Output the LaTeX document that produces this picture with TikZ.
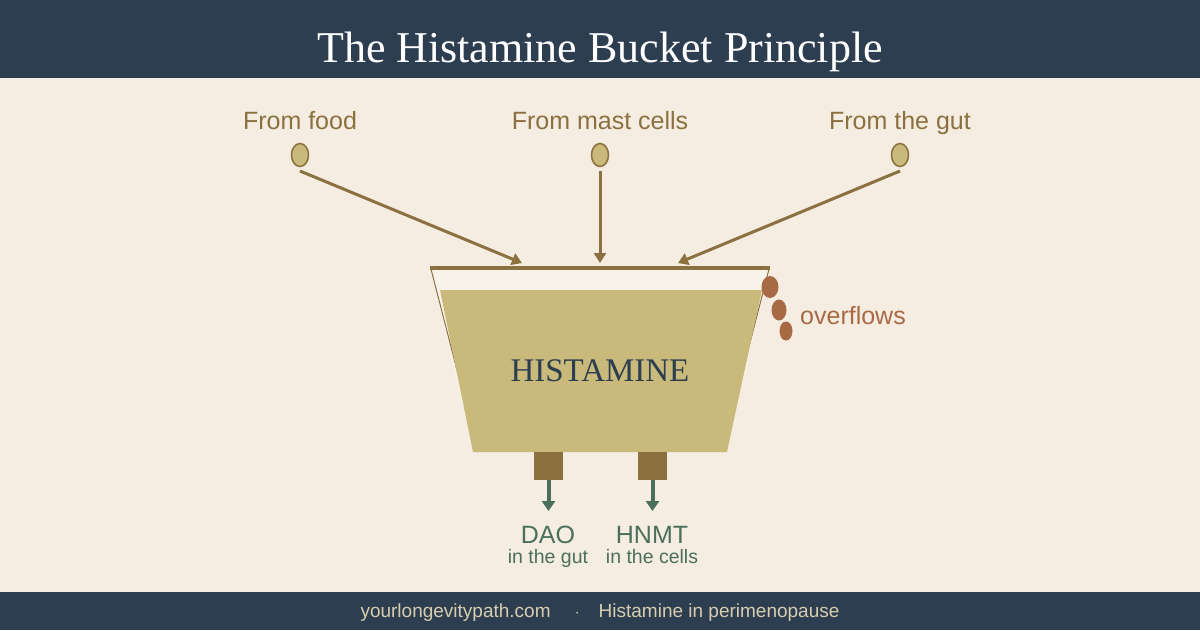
\documentclass[tikz,border=0pt]{standalone}
\usepackage{fontspec}
\setmainfont{Liberation Sans}
\newfontfamily\serifface{Liberation Serif}
\usetikzlibrary{arrows.meta,shapes.geometric}
\definecolor{navy}{RGB}{45,62,80}
\definecolor{cream}{RGB}{245,237,225}
\definecolor{paleinside}{RGB}{248,243,234}
\definecolor{tan}{RGB}{139,112,64}
\definecolor{gold}{RGB}{201,185,122}
\definecolor{rust}{RGB}{168,106,69}
\definecolor{sage}{RGB}{74,112,92}
\definecolor{foottxt}{RGB}{215,205,175}
\tikzset{
  srclabel/.style={text=tan, font=\fontsize{25}{30}\selectfont, anchor=base},
  drop/.style={ellipse, draw=tan, line width=1.5pt, fill=gold, minimum width=17pt, minimum height=23pt, inner sep=0pt},
  inflow/.style={draw=tan, line width=3pt, -{Triangle[length=10pt,width=12pt]}},
  outlet/.style={fill=tan, draw=none, minimum width=29pt, minimum height=28pt, inner sep=0pt},
  outflow/.style={draw=sage, line width=4pt, -{Triangle[length=10pt,width=13pt]}},
  enzyme/.style={text=sage, font=\fontsize{25}{30}\selectfont, anchor=base},
  enzsub/.style={text=sage, font=\fontsize{19.5}{24}\selectfont, anchor=base},
  spill/.style={ellipse, fill=rust, draw=none, inner sep=0pt}
}
\begin{document}
\begin{tikzpicture}[x=1pt,y=-1pt]
\useasboundingbox (0,0) rectangle (1200,630);
\fill[cream] (0,0) rectangle (1200,630);
\fill[navy] (0,0) rectangle (1200,78);
\fill[navy] (0,592) rectangle (1200,630);
\node[anchor=base, text=white, font=\serifface\fontsize{44}{50}\selectfont] (title) at (600,62) {The Histamine Bucket Principle};
\node[anchor=base, text=foottxt, font=\fontsize{19}{23}\selectfont] (foot) at (600,617) {yourlongevitypath.com \quad$\cdot$\quad Histamine in perimenopause};
% sources
\node[srclabel] (lfood) at (300,129) {From food};
\node[srclabel] (lmast) at (600,129) {From mast cells};
\node[srclabel] (lgut) at (900,129) {From the gut};
\node[drop] (dfood) at (300,155) {};
\node[drop] (dmast) at (600,155) {};
\node[drop] (dgut) at (900,155) {};
\coordinate (tfood) at (522,263);
\coordinate (tmast) at (600,263);
\coordinate (tgut) at (678,263);
\coordinate (sfood) at (300,171);
\coordinate (smast) at (600,171);
\coordinate (sgut) at (900,171);
\draw[inflow] (sfood) -- (tfood);
\draw[inflow] (smast) -- (tmast);
\draw[inflow] (sgut) -- (tgut);
% bucket
\fill[paleinside] (431,269) -- (769,269) -- (727,452) -- (473,452) -- cycle;
\draw[tan, line width=1pt] (431,269) -- (478,452);
\draw[tan, line width=1pt] (769,269) -- (722,452);
\fill[gold] (440,290) -- (762,290) -- (727,452) -- (473,452) -- cycle;
\draw[tan, line width=4pt] (430,268) -- (770,268);
\node[anchor=base, text=navy, font=\serifface\fontsize{33}{40}\selectfont] (hist) at (600,381) {HISTAMINE};
% outlets
\node[outlet] (o1) at (548.5,466) {};
\node[outlet] (o2) at (652.5,466) {};
\coordinate (e1) at (548.5,511);
\coordinate (e2) at (652.5,511);
\draw[outflow] (o1.south) -- (e1);
\draw[outflow] (o2.south) -- (e2);
\node[enzyme] (dao) at (548,543) {DAO};
\node[enzyme] (hnmt) at (652,543) {HNMT};
\node[enzsub] (dsub) at (548,563) {in the gut};
\node[enzsub] (hsub) at (652,563) {in the cells};
% overflow
\node[spill, minimum width=17pt, minimum height=22pt] (s1) at (770,287) {};
\node[spill, minimum width=15pt, minimum height=21pt] (s2) at (779,310) {};
\node[spill, minimum width=13pt, minimum height=19pt] (s3) at (786,331) {};
\node[anchor=base west, text=rust, font=\fontsize{25}{30}\selectfont, inner sep=0pt] (ovf) at (800,324) {overflows};
\end{tikzpicture}
\end{document}
